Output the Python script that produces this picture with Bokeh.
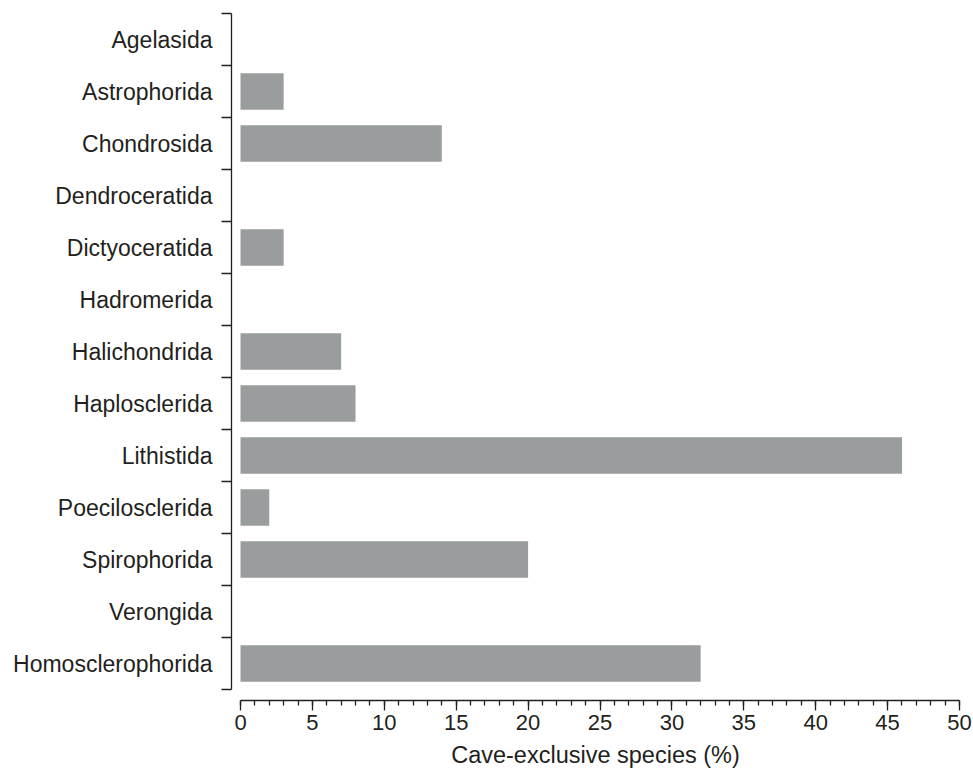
from bokeh.plotting import figure
from bokeh.models import Range1d, FixedTicker, ColumnDataSource
from bokeh.embed import file_html
from bokeh.resources import INLINE

# ---- data ----
orders = ["Agelasida", "Astrophorida", "Chondrosida", "Dendroceratida",
          "Dictyoceratida", "Hadromerida", "Halichondrida", "Haplosclerida",
          "Lithistida", "Poecilosclerida", "Spirophorida", "Verongida",
          "Homosclerophorida"]
cave_exclusive_pct = [0, 3, 14, 0, 3, 0, 7, 8, 46, 2, 20, 0, 32]
x_major_ticks = [0, 5, 10, 15, 20, 25, 30, 35, 40, 45, 50]
x_minor_ticks = list(range(0, 51))
x_label = "Cave-exclusive species (%)"

TEXT = "#231f20"
FONT = "Liberation Sans"
n = len(orders)
centres = [i + 0.5 for i in range(n)]
boundaries = list(range(n + 1))

px_per_unit = 719 / 50.0
pad_cat = 11 / 52.0

p = figure(output_backend="svg", toolbar_location=None,
           frame_width=728, frame_height=687,
           min_border_left=231, min_border_right=14,
           min_border_top=13, min_border_bottom=70,
           x_range=Range1d(-9 / px_per_unit, 50),
           y_range=Range1d(n + pad_cat, 0))
p.outline_line_color = None
p.xgrid.visible = False
p.ygrid.visible = False
p.background_fill_color = "white"
p.border_fill_color = "white"

src = ColumnDataSource(dict(y=centres, right=cave_exclusive_pct, name=orders))
p.hbar(y="y", left=0, right="right", height=0.7, source=src,
       fill_color="#9a9d9d", line_color=None)

# y axis
ya = p.yaxis[0]
ya.ticker = FixedTicker(ticks=centres, minor_ticks=boundaries)
ya.major_label_overrides = {c: name for c, name in zip(centres, orders)}
ya.bounds = (0, n)
ya.major_tick_out = 0
ya.major_tick_in = 0
ya.minor_tick_out = 10
ya.minor_tick_in = 0
ya.minor_tick_line_color = TEXT
ya.minor_tick_line_width = 1.3
ya.axis_line_color = TEXT
ya.axis_line_width = 1.3
ya.major_label_standoff = 9
ya.major_label_text_font = FONT
ya.major_label_text_font_size = "23px"
ya.major_label_text_color = TEXT

# x axis
xa = p.xaxis[0]
xa.ticker = FixedTicker(ticks=x_major_ticks, minor_ticks=x_minor_ticks)
xa.bounds = (0, 50)
xa.major_tick_out = 10
xa.major_tick_in = 0
xa.minor_tick_out = 5
xa.minor_tick_in = 0
xa.major_tick_line_color = TEXT
xa.minor_tick_line_color = TEXT
xa.major_tick_line_width = 1.3
xa.minor_tick_line_width = 1.3
xa.axis_line_color = TEXT
xa.axis_line_width = 1.3
xa.major_label_standoff = 4
xa.major_label_text_font = FONT
xa.major_label_text_font_size = "22px"
xa.major_label_text_color = TEXT
xa.axis_label = x_label
xa.axis_label_standoff = 9
xa.axis_label_text_font = FONT
xa.axis_label_text_font_size = "23.5px"
xa.axis_label_text_font_style = "normal"
xa.axis_label_text_color = TEXT

open("out.html", "w").write(file_html(p, INLINE))
